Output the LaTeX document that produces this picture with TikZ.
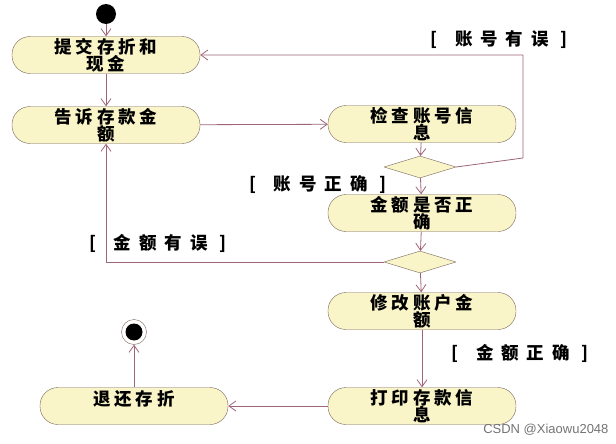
\documentclass[tikz,border=0pt]{standalone}
\usepackage{fontspec}
\newfontfamily\cjk[LetterSpace=22]{Noto Sans CJK SC}
\newfontfamily\cjkrong[LetterSpace=45]{Noto Sans CJK SC}
\newfontfamily\wm{Liberation Sans}
\usetikzlibrary{arrows.meta,shapes.geometric}
\definecolor{vang}{RGB}{250,245,200}
\definecolor{vien}{RGB}{120,100,90}
\definecolor{tim}{RGB}{160,100,120}
\begin{document}
\begin{tikzpicture}[x=1pt,y=-1pt, line join=round, >={Straight Barb[length=7pt,width=10pt]},
	font=\cjk\bfseries\fontsize{17.5}{17}\selectfont,
	hd/.style={draw=vien, fill=vang, rounded corners=18pt, minimum width=188pt, minimum height=37pt, inner sep=0pt, align=center},
	nut/.style={draw=vien, fill=vang, diamond, minimum width=72pt, minimum height=22pt, inner sep=0pt},
	nhan/.style={font=\cjkrong\bfseries\fontsize{17.5}{17}\selectfont},
	duong/.style={draw=tim, thick}]
	\useasboundingbox (0,0) rectangle (616,444);
	\path 
	(106,14) node[circle, fill=black, minimum size=20pt, inner sep=0pt] (batdau) {}
	(106,55) node[hd] (nop) {提交存折和\\现金}
	(106,125) node[hd] (bao) {告诉存款金\\额}
	(422,124) node[hd] (kiemtra) {检查账号信\\息}
	(420,167) node[nut] (r1) {}
	(422,213) node[hd] (ktien) {金额是否正\\确}
	(420,262) node[nut] (r2) {}
	(422,311) node[hd] (sua) {修改账户金\\额}
	(422,406) node[hd] (in) {打印存款信\\息}
	(134,406) node[hd] (tra) {退还存折\\~}
	(134,332) node[circle, draw=vien, minimum size=25pt, inner sep=0pt] (ketthuc) {};
	\fill (ketthuc) circle (8.5pt);
	% nhãn điều kiện
	\path 
	(499,40) node[nhan] (sai1) {[\quad 账号有误 ]}
	(318,185) node[nhan] (dung1) {[\quad 账号正确 ]}
	(158,243) node[nhan] (sai2) {[\quad 金额有误 ]}
	(520,353) node[nhan] (dung2) {[\quad 金额正确 ]};
	\coordinate (goc) at (523,158);
	\draw[duong, ->] (batdau)--(nop);
	\draw[duong, ->] (nop)--(bao);
	\draw[duong, ->] (bao)--(kiemtra);
	\draw[duong, ->] (kiemtra)--(r1);
	\draw[duong, ->] (r1.east)--(goc)|-(nop.east);
	\draw[duong, ->] (r1)--(ktien);
	\draw[duong, ->] (ktien)--(r2);
	\draw[duong, ->] (r2.west)-|(bao.south);
	\draw[duong, ->] (r2)--(sua);
	\draw[duong, ->] (sua)--(in);
	\draw[duong, ->] (in)--(tra);
	\draw[duong, ->] (tra)--(ketthuc);
	\node[font=\wm\fontsize{13}{15}\selectfont, text=black!55, anchor=east] (dau) at (612,430) {CSDN @Xiaowu2048};
\end{tikzpicture}
\end{document}
